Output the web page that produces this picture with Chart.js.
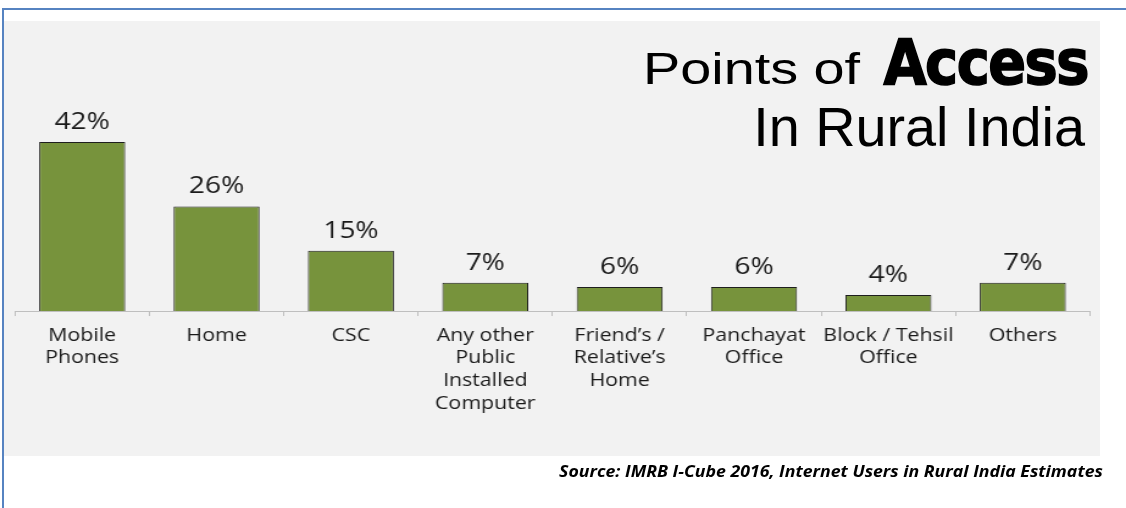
<!DOCTYPE html>
<html>
<head>
<meta charset="utf-8">
<script src="https://cdn.jsdelivr.net/npm/chart.js@4/dist/chart.umd.min.js"></script>
<style>
  html, body { margin: 0; padding: 0; background: #fff; }
  #page { position: relative; width: 1126px; height: 508px; overflow: hidden; }
  #frame { position: absolute; left: 2px; top: 8px; width: 1300px; height: 600px;
           border-left: 2px solid #5683c1; border-top: 2px solid #5683c1; }
  #panel { position: absolute; left: 4px; top: 21px; width: 1096px; height: 435px; background: #f2f2f2; }
  #myChart { position: absolute; left: 0; top: 0; transform: scaleX(1.22); transform-origin: 0 0; }
  .t { position: absolute; white-space: nowrap; color: #000; line-height: 1; }
  #t1 { left: 643px; top: 43px; font: 45px "Liberation Sans", Arial, sans-serif;
        transform: scaleX(1.24); transform-origin: 0 0; }
  #t2 { right: 38px; top: 26px; font: bold 62px "DejaVu Sans Condensed", "DejaVu Sans", sans-serif;
        letter-spacing: -1.5px; -webkit-text-stroke: 1.5px #000; }
  #t3 { right: 41px; top: 94px; font: 55.8px "Liberation Sans", Arial, sans-serif; }
  #src { right: 23px; top: 461px; font: italic bold 15.4px "Open Sans", sans-serif; color: #000;
         transform: scaleX(1.15); transform-origin: 100% 0; }
</style>
</head>
<body>
<div id="page">
  <div id="frame"></div>
  <div id="panel"></div>
  <canvas id="myChart" width="923" height="508"></canvas>
  <div class="t" id="t1">Points of</div>
  <div class="t" id="t2">Access</div>
  <div class="t" id="t3">In Rural India</div>
  <div class="t" id="src">Source: IMRB I-Cube 2016, Internet Users in Rural India Estimates</div>
</div>
<script>
let accessLabels = [
  ['Mobile', 'Phones'],
  ['Home'],
  ['CSC'],
  ['Any other', 'Public', 'Installed', 'Computer'],
  ['Friend’s /', 'Relative’s', 'Home'],
  ['Panchayat', 'Office'],
  ['Block / Tehsil', 'Office'],
  ['Others']
];
let accessShare = [42, 26, 15, 7, 6, 6, 4, 7];

// value labels over the bars (no datalabels plugin here)
let barValues = {
  id: 'barValues',
  afterDatasetsDraw(chart) {
    let ctx = chart.ctx;
    let meta = chart.getDatasetMeta(0);
    ctx.save();
    ctx.font = '23px "Open Sans", sans-serif';
    ctx.fillStyle = '#1a1a1a';
    ctx.textAlign = 'center';
    ctx.textBaseline = 'alphabetic';
    meta.data.forEach((bar, i) => {
      ctx.fillText(accessShare[i] + '%', bar.x, bar.y - 13);
    });
    ctx.restore();
  }
};

let ctx = document.getElementById('myChart').getContext('2d');
let chart = new Chart(ctx, {
  type: 'bar',
  data: {
    labels: accessLabels,
    datasets: [{
      label: 'Points of access',
      data: accessShare,
      backgroundColor: '#77933c',
      borderColor: '#1e1e1e',
      borderWidth: 1,
      categoryPercentage: 0.8,
      barPercentage: 0.8
    }]
  },
  options: {
    responsive: false,
    animation: false,
    layout: { padding: { left: 12.3, right: 29.6, top: 130, bottom: 84 } },
    plugins: { legend: { display: false }, tooltip: { enabled: false } },
    scales: {
      x: {
        grid: { offset: true, drawOnChartArea: false, drawTicks: true, tickLength: 5, color: '#bfbfbf' },
        border: { display: true, color: '#bfbfbf', width: 1 },
        ticks: {
          padding: 8,
          maxRotation: 0,
          autoSkip: false,
          color: '#1a1a1a',
          font: { family: '"Open Sans", sans-serif', size: 17.5, lineHeight: 1.314 }
        }
      },
      y: { display: false, min: 0, max: 45 }
    }
  },
  plugins: [barValues]
});
</script>
</body>
</html>
